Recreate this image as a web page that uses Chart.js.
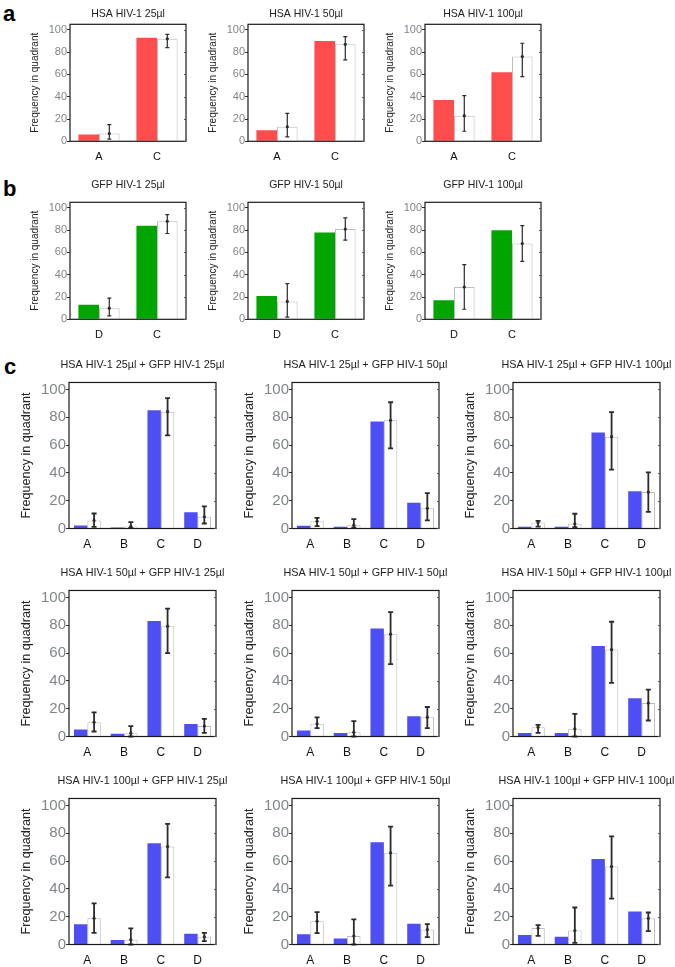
<!DOCTYPE html>
<html>
<head>
<meta charset="utf-8">
<script src="https://cdn.jsdelivr.net/npm/chart.js@4.4.1/dist/chart.umd.min.js"></script>
<style>
  body { margin: 0; background: #fff; width: 675px; height: 967px; position: relative; overflow: hidden; }
  .letter { position: absolute; font: bold 22px "Liberation Sans", Arial, sans-serif; line-height: 1; color: #000; }
</style>
</head>
<body>
<div class="letter" style="left:3px;top:3px">a</div>
<div class="letter" style="left:3px;top:178px">b</div>
<div class="letter" style="left:4px;top:356px">c</div>
<script>
// --- data ---
const yTicks = [0, 20, 40, 60, 80, 100];

const titlesA = ['HSA HIV-1 25µl', 'HSA HIV-1 50µl', 'HSA HIV-1 100µl'];
const catsA = ['A', 'C'];
const filledA = [[6, 93], [10, 90], [37, 62]];
const openA = [[7, 92], [13, 87], [23, 76]];
const loA = [[2, 84], [4, 73], [9, 58]];
const hiA = [[15, 96], [25, 94], [41, 88]];

const titlesB = ['GFP HIV-1 25µl', 'GFP HIV-1 50µl', 'GFP HIV-1 100µl'];
const catsB = ['D', 'C'];
const filledB = [[13, 84], [21, 78], [17, 80]];
const openB = [[10, 88], [16, 81], [29, 68]];
const loB = [[3, 77], [2, 71], [9, 52]];
const hiB = [[19, 94], [32, 91], [49, 84]];

const titlesC = [
  'HSA HIV-1 25µl + GFP HIV-1 25µl', 'HSA HIV-1 25µl + GFP HIV-1 50µl', 'HSA HIV-1 25µl + GFP HIV-1 100µl',
  'HSA HIV-1 50µl + GFP HIV-1 25µl', 'HSA HIV-1 50µl + GFP HIV-1 50µl', 'HSA HIV-1 50µl + GFP HIV-1 100µl',
  'HSA HIV-1 100µl + GFP HIV-1 25µl', 'HSA HIV-1 100µl + GFP HIV-1 50µl', 'HSA HIV-1 100µl + GFP HIV-1 100µl'
];
const catsC = ['A', 'B', 'C', 'D'];
const filledC = [
  [2.2, 0.7, 85, 11.6], [1.9, 1.2, 77, 18.6], [1.2, 1.2, 69, 26.7],
  [5, 1.9, 83, 9], [4.3, 2.6, 77.6, 14.5], [2.6, 2.6, 65, 27.5],
  [14.5, 3.2, 72.8, 7.7], [7.4, 4.3, 73.6, 14.9], [6.8, 5.5, 61.5, 23.8]
];
const openC = [
  [5.8, 1.5, 84, 8.4], [5.3, 2.4, 77.8, 14.5], [4.3, 3.4, 66, 26.2],
  [10.3, 2.4, 79.3, 7.5], [9.1, 3.1, 73.6, 13.9], [6.7, 5.5, 62.5, 24],
  [18.8, 3.5, 70.4, 5.5], [16.8, 6.2, 65.9, 10.8], [11.8, 10, 56, 18.8]
];
const loC = [
  [1.2, 0.5, 67, 3.6], [1.7, 0.7, 57.6, 5.8], [1.4, 1, 42.3, 12],
  [3.6, 0, 60, 2.6], [6, 0, 52, 6], [2.6, 0, 38.5, 11.5],
  [8.4, 0, 48.2, 2.4], [8.2, 0, 42.4, 5.3], [6.2, 1.2, 33, 9.6]
];
const hiC = [
  [10.8, 4.6, 93.7, 15.9], [7.7, 6.7, 90.8, 25.5], [5.5, 10.6, 83.7, 40.4],
  [17.3, 7.5, 92, 12.7], [13.7, 11, 89.4, 21.2], [8.4, 16.3, 82.5, 33.7],
  [29.6, 11.6, 86.7, 8.4], [23.3, 18, 84.7, 14.6], [13.9, 26.6, 77.7, 23]
];

const RED = 'rgb(255,77,77)';
const GREEN = 'rgb(0,165,0)';
const BLUE = 'rgb(78,78,245)';
const SANS = '"Liberation Sans", Arial, sans-serif';

// frame around the plot area + small ticks on the right edge
const boxPlugin = {
  id: 'box',
  afterDraw(chart) {
    const { ctx, chartArea: a, scales: { y } } = chart;
    ctx.save();
    ctx.strokeStyle = '#1a1a1a';
    ctx.lineWidth = 1.2;
    ctx.strokeRect(a.left, a.top, a.right - a.left, a.bottom - a.top);
    ctx.lineWidth = 1;
    ctx.strokeStyle = '#555';
    yTicks.forEach(v => {
      const py = Math.round(y.getPixelForValue(v)) + 0.5;
      ctx.beginPath(); ctx.moveTo(a.right - 2, py); ctx.lineTo(a.right, py); ctx.stroke();
    });
    ctx.restore();
  }
};

// error bars on the open (white) bars
const errPlugin = {
  id: 'err',
  afterDatasetsDraw(chart, args, opts) {
    const { ctx, scales: { y } } = chart;
    const ds = chart.data.datasets[1];
    const meta = chart.getDatasetMeta(1);
    ctx.save();
    ctx.strokeStyle = '#2b2b2b';
    ctx.fillStyle = '#2b2b2b';
    ctx.lineWidth = opts.lw;
    meta.data.forEach((bar, i) => {
      const x = bar.x;
      const y1 = y.getPixelForValue(ds.lo[i]);
      const y2 = y.getPixelForValue(ds.hi[i]);
      const ym = y.getPixelForValue(ds.data[i]);
      ctx.beginPath();
      ctx.moveTo(x, y1); ctx.lineTo(x, y2);
      ctx.moveTo(x - opts.cap, y1); ctx.lineTo(x + opts.cap, y1);
      ctx.moveTo(x - opts.cap, y2); ctx.lineTo(x + opts.cap, y2);
      ctx.stroke();
      ctx.beginPath(); ctx.arc(x, ym, 1.6, 0, Math.PI * 2); ctx.fill();
    });
    ctx.restore();
  }
};

function makePanel(p) {
  const lh = p.titleSize * 1.2;
  const titleBlock = p.titleGap + lh / 2;
  const wrap = document.createElement('div');
  wrap.style.cssText = `position:absolute;left:${p.x - p.leftW}px;top:${p.y - titleBlock}px;` +
    `width:${p.w + 2 * p.leftW}px;height:${p.h + titleBlock + p.bottomH}px`;
  const cv = document.createElement('canvas');
  wrap.appendChild(cv);
  document.body.appendChild(wrap);

  new Chart(cv, {
    type: 'bar',
    data: {
      labels: p.cats,
      datasets: [
        { data: p.filled, backgroundColor: p.color, borderWidth: 0 },
        { data: p.open, backgroundColor: '#fff', borderColor: '#bdbdbd', borderWidth: 1, lo: p.lo, hi: p.hi }
      ]
    },
    options: {
      responsive: true, maintainAspectRatio: false, animation: false,
      categoryPercentage: p.catPct, barPercentage: 1,
      layout: { padding: 0 },
      plugins: {
        legend: { display: false }, tooltip: { enabled: false },
        title: {
          display: true, text: p.title, color: '#222',
          font: { family: SANS, size: p.titleSize, weight: 'normal' },
          padding: { top: 0, bottom: titleBlock - lh }
        },
        err: { lw: p.errW, cap: p.cap }
      },
      scales: {
        x: {
          grid: { display: false, drawTicks: false, tickLength: 0 }, border: { display: false },
          ticks: { color: '#111', font: { family: SANS, size: p.catSize }, padding: p.catPad },
          afterFit(s) { s.height = p.bottomH; }
        },
        y: {
          min: 0, max: 105,
          afterBuildTicks(s) { s.ticks = yTicks.map(v => ({ value: v })); },
          afterFit(s) { s.width = p.leftW; },
          grid: { drawOnChartArea: false, tickLength: 3, color: '#333' },
          border: { display: false },
          ticks: { color: '#80858a', font: { family: SANS, size: p.tickSize }, padding: 0 },
          title: {
            display: true, text: 'Frequency in quadrant', color: '#222',
            font: { family: SANS, size: p.yTitleSize }, padding: 0
          }
        },
        yr: {
          position: 'right', display: true,
          grid: { display: false }, border: { display: false }, ticks: { display: false },
          afterFit(s) { s.width = p.leftW; }
        }
      }
    },
    plugins: [boxPlugin, errPlugin]
  });
}

// rows a and b
const colAB = [70, 248, 425];
[[titlesA, catsA, filledA, openA, loA, hiA, RED, 24, 10],
 [titlesB, catsB, filledB, openB, loB, hiB, GREEN, 202, 17]].forEach(r => {
  colAB.forEach((x, i) => {
    makePanel({
      x: x, y: r[7], w: 116, h: 117, leftW: 41, bottomH: 26,
      title: r[0][i], cats: r[1], filled: r[2][i], open: r[3][i], lo: r[4][i], hi: r[5][i],
      color: r[6], titleSize: 10.5, titleGap: r[8], tickSize: 11, yTitleSize: 10,
      catSize: 11, catPad: 9, catPct: 0.71, errW: 1.2, cap: 2
    });
  });
});

// row c (3 x 3)
const colC = [69, 292, 513];
const rowC = [382, 590, 798];
rowC.forEach((y, r) => {
  colC.forEach((x, c) => {
    const k = r * 3 + c;
    makePanel({
      x: x, y: y, w: 147, h: 146, leftW: 50, bottomH: 24,
      title: titlesC[k], cats: catsC, filled: filledC[k], open: openC[k], lo: loC[k], hi: hiC[k],
      color: BLUE, titleSize: 10.8, titleGap: 17, tickSize: 15, yTitleSize: 12.6,
      catSize: 12, catPad: 9, catPct: 0.73, errW: 1.8, cap: 2.5
    });
  });
});
</script>
</body>
</html>
